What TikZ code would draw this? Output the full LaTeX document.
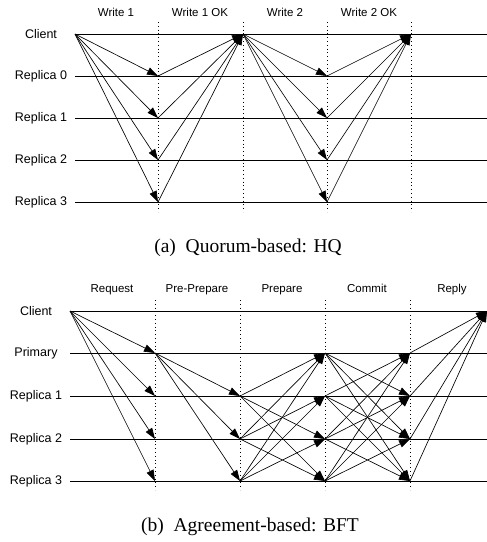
\documentclass[tikz,border=0pt]{standalone}
\usepackage{fontspec}
\setmainfont{Liberation Serif}
\newfontfamily\labelfont{Liberation Sans}
\usetikzlibrary{arrows.meta}
\colorlet{timeline}{black}
\colorlet{phaseline}{black}
\tikzset{
  process line/.style={draw=timeline, line width=0.9pt},
  phase line/.style={draw=phaseline, line width=0.7pt, dash pattern=on 0.8pt off 3pt},
  message/.style={line width=0.65pt, -{Triangle[length=11pt,width=7.5pt]}},
  process label/.style={font=\labelfont\fontsize{12.5}{14}\selectfont},
  phase label/.style={font=\labelfont\fontsize{11.5}{13}\selectfont,
    text height=1.6ex, text depth=0.4ex},
  sub caption/.style={font=\fontsize{19.5}{23}\selectfont}
}

\begin{document}
\begin{tikzpicture}[x=1pt,y=-1pt]
\useasboundingbox (0,0) rectangle (487,542);
% (a) quorum-based
\foreach \r/\y/\name in {0/34/Client,1/76/Replica 0,2/118/Replica 1,3/160/Replica 2,4/202/Replica 3} {
  \node[process label] (qlabel-\r) at (41,\y) {\name};
  \foreach \t/\x in {0/75,1/158,2/243,3/327,4/411}
    \coordinate (q-\r-\t) at (\x,\y);
  \coordinate (qend-\r) at (487,\y);
  \draw[process line] (q-\r-0) -- (qend-\r);
}
\foreach \t/\x in {1/158,2/243,3/327,4/411} {
  \coordinate (qtop-\t) at (\x,22);
  \coordinate (qbot-\t) at (\x,212);
  \draw[phase line] (qtop-\t) -- (qbot-\t);
}
\foreach \p/\x/\text in {1/116/Write 1,2/200/Write 1 OK,3/285/Write 2,4/369/Write 2 OK}
  \node[phase label] (qphase-\p) at (\x,14) {\text};
\foreach \r in {1,...,4} {
  \draw[message] (q-0-0) -- (q-\r-1);
  \draw[message] (q-\r-1) -- (q-0-2);
  \draw[message] (q-0-2) -- (q-\r-3);
  \draw[message] (q-\r-3) -- (q-0-4);
}
\node[sub caption] (caption-a) at (248,248) {(a)\enspace Quorum-based: HQ};
% (b) agreement-based
\foreach \r/\y/\name in {0/311/Client,1/353/Primary,2/396/Replica 1,3/439/Replica 2,4/481/Replica 3} {
  \node[process label] (blabel-\r) at (36,\y) {\name};
  \foreach \t/\x in {0/70,1/155,2/240,3/325,4/410,5/487}
    \coordinate (b-\r-\t) at (\x,\y);
  \draw[process line] (b-\r-0) -- (b-\r-5);
}
\foreach \t/\x in {1/155,2/240,3/325,4/410} {
  \coordinate (btop-\t) at (\x,300);
  \coordinate (bbot-\t) at (\x,490);
  \draw[phase line] (btop-\t) -- (bbot-\t);
}
\foreach \p/\x/\text in {1/112/Request,2/197/Pre-Prepare,3/282/Prepare,4/367/Commit,5/452/Reply}
  \node[phase label] (bphase-\p) at (\x,290) {\text};
\foreach \r in {1,...,4}
  \draw[message] (b-0-0) -- (b-\r-1);
\foreach \r in {2,3,4}
  \draw[message] (b-1-1) -- (b-\r-2);
\foreach \s in {2,3,4}
  \foreach \d in {1,...,4} {
    \ifnum\s=\d\else\draw[message] (b-\s-2) -- (b-\d-3);\fi
  }
\foreach \s in {1,...,4}
  \foreach \d in {1,...,4} {
    \ifnum\s=\d\else\draw[message] (b-\s-3) -- (b-\d-4);\fi
  }
\foreach \s in {1,...,4}
  \draw[message] (b-\s-4) -- (b-0-5);
\node[sub caption] (caption-b) at (250,527) {(b)\enspace Agreement-based: BFT};
\end{tikzpicture}
\end{document}
